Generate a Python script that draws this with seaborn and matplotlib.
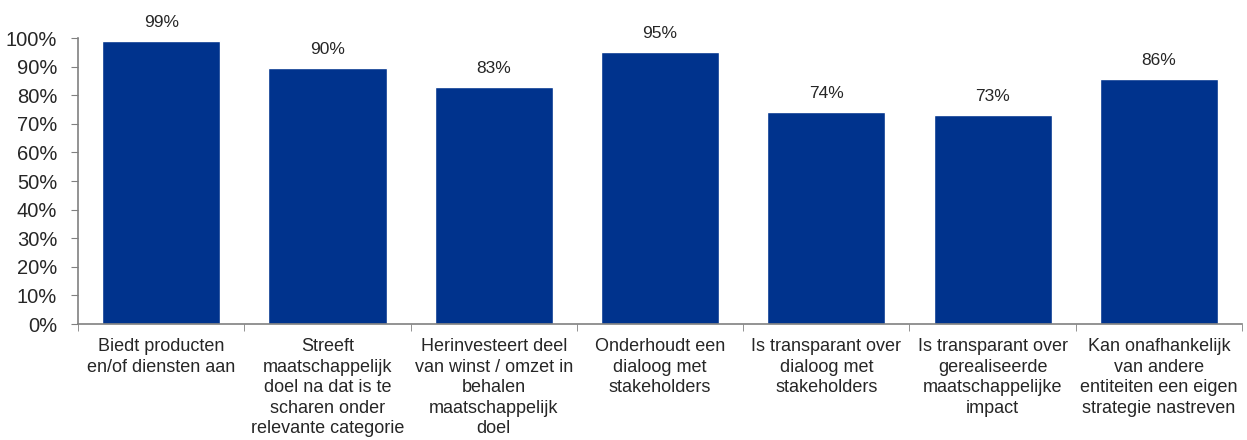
import matplotlib
matplotlib.use("Agg")
import matplotlib.pyplot as plt
import seaborn as sns
import pandas as pd
import numpy as np
from matplotlib.ticker import PercentFormatter, FixedLocator

# data
categories = [
    "Biedt producten\nen/of diensten aan",
    "Streeft\nmaatschappelijk\ndoel na dat is te\nscharen onder\nrelevante categorie",
    "Herinvesteert deel\nvan winst / omzet in\nbehalen\nmaatschappelijk\ndoel",
    "Onderhoudt een\ndialoog met\nstakeholders",
    "Is transparant over\ndialoog met\nstakeholders",
    "Is transparant over\ngerealiseerde\nmaatschappelijke\nimpact",
    "Kan onafhankelijk\nvan andere\nentiteiten een eigen\nstrategie nastreven",
]
values = [0.99, 0.895, 0.83, 0.952, 0.742, 0.731, 0.857]
value_labels = ["99%", "90%", "83%", "95%", "74%", "73%", "86%"]

df = pd.DataFrame({"cat": categories, "val": values})

sns.set_style("white")
plt.rcParams["font.family"] = ["Liberation Sans", "DejaVu Sans"]

fig = plt.figure(figsize=(12.47, 4.4), dpi=100)
ax = fig.add_axes([0.0626, 0.2636, 0.9334, 0.65])

sns.barplot(data=df, x="cat", y="val", color="#00338D", saturation=1,
            width=0.71, ax=ax)

ax.set_ylim(0, 1)
ax.set_xlim(-0.5, len(categories) - 0.5)
ax.yaxis.set_major_locator(FixedLocator(np.arange(0, 1.01, 0.1)))
ax.yaxis.set_major_formatter(PercentFormatter(1.0, decimals=0))
ax.set_xlabel("")
ax.set_ylabel("")

for s in ["top", "right"]:
    ax.spines[s].set_visible(False)
for s in ["left", "bottom"]:
    ax.spines[s].set_color("#808080")
    ax.spines[s].set_linewidth(1.2)

ax.tick_params(axis="y", direction="out", length=5, color="#808080",
               labelsize=14.5, pad=10, left=True)
ax.tick_params(axis="x", which="major", length=0, labelsize=13, pad=10)
ax.set_xticks(np.arange(-0.5, len(categories)), minor=True)
ax.tick_params(axis="x", which="minor", direction="out", length=5,
               color="#808080", bottom=True)

for lbl in ax.get_xticklabels():
    lbl.set_linespacing(1.28)

ax.bar_label(ax.containers[0], labels=value_labels, padding=8,
             fontsize=12.5, clip_on=False)

fig.savefig("out.png", dpi=100)
